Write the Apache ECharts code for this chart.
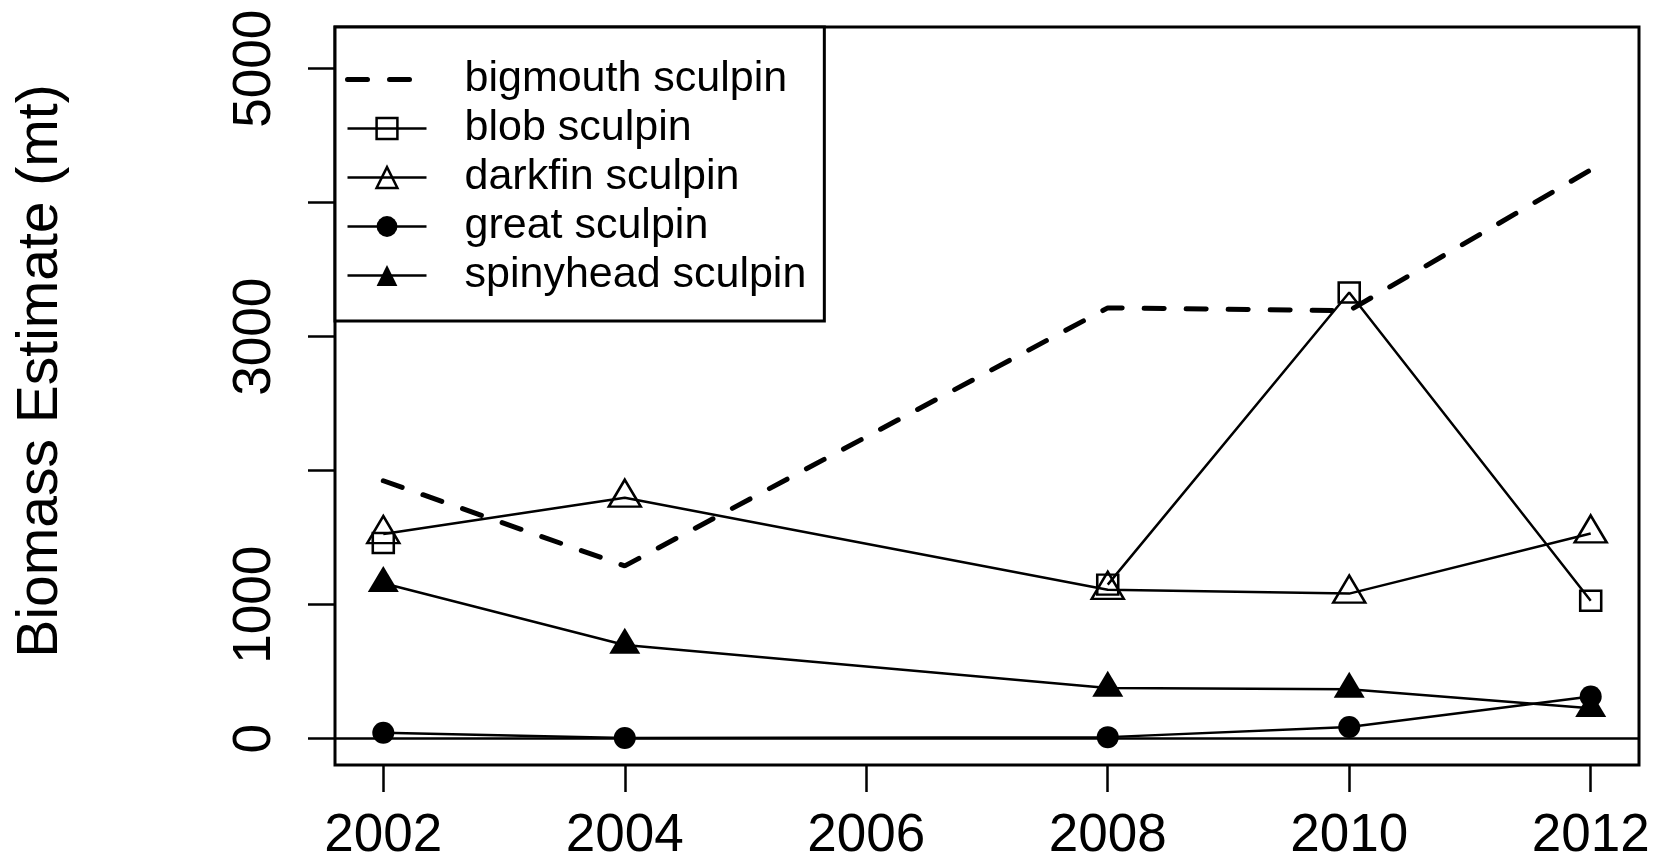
<!DOCTYPE html>
<html>
<head>
<meta charset="utf-8">
<title>Sculpin biomass estimates</title>
<script src="https://cdn.jsdelivr.net/npm/echarts@6/dist/echarts.min.js"></script>
<style>
  html, body { margin: 0; padding: 0; background: #fff; }
  #chart { width: 1656px; height: 863px; }
</style>
</head>
<body>
<div id="chart"></div>
<script>
// survey years (no survey in 2006)
var years = [2002, 2004, 2008, 2010, 2012];

// biomass estimates, mt (null = no estimate that year)
var bigmouth = [1925, 1290, 3215, 3195, 4245];
var blob = [1460, null, 1150, 3330, 1030];
var darkfin = [1527, 1799, 1111, 1083, 1532];
var great = [45, 5, 12, 87, 315];
var spinyhead = [1160, 700, 379, 370, 228];

var seriesNames = ['bigmouth sculpin', 'blob sculpin', 'darkfin sculpin', 'great sculpin', 'spinyhead sculpin'];

var xTicks = [2002, 2004, 2006, 2008, 2010, 2012];
var yTicks = [0, 1000, 2000, 3000, 4000, 5000];
var yLabels = [0, 1000, 3000, 5000];
var yTitle = 'Biomass Estimate (mt)';

var font = '"Liberation Sans", Arial, Helvetica, sans-serif';

function toPairs(vals) {
    return years.map(function (yr, i) {
        return [yr, vals[i] == null ? '-' : vals[i]];
    });
}

var chartDom = document.getElementById('chart');
var myChart = echarts.init(chartDom);

var thin = 2.5;
var hollow = { color: 'rgba(0,0,0,0)', borderColor: '#000', borderWidth: thin };
var filled = { color: '#000', borderColor: '#000', borderWidth: 0 };
var noMark = { color: 'rgba(0,0,0,0)', borderColor: 'rgba(0,0,0,0)', borderWidth: 0 };
var dash = { color: '#000', width: 5, type: [20, 22], cap: 'round' };
var solid = { color: '#000', width: thin, type: 'solid' };

function lineSeries(name, vals, symbol, size, offset, itemStyle, lineStyle) {
    return {
        name: name,
        type: 'line',
        data: toPairs(vals),
        symbol: symbol,
        showSymbol: symbol !== 'none',
        symbolSize: size,
        symbolOffset: offset,
        connectNulls: false,
        lineStyle: lineStyle,
        itemStyle: itemStyle,
        emphasis: { disabled: true },
        animation: false
    };
}

var series = [
    lineSeries(seriesNames[0], bigmouth, 'none', 0, [0, 0], filled, dash),
    lineSeries(seriesNames[1], blob, 'rect', [21, 20], [0, 0], hollow, solid),
    lineSeries(seriesNames[2], darkfin, 'triangle', [32, 27], [0, -4.5], hollow, solid),
    lineSeries(seriesNames[3], great, 'circle', 22, [0, 0], filled, solid),
    lineSeries(seriesNames[4], spinyhead, 'triangle', [31, 26], [0, -4.3], filled, solid)
];

// horizontal reference line at zero
series[0].markLine = {
    silent: true,
    symbol: 'none',
    animation: false,
    label: { show: false },
    lineStyle: { color: '#000', width: 2.5, type: 'solid' },
    data: [{ yAxis: 0 }]
};

var option = {
    backgroundColor: '#fff',
    animation: false,
    grid: {
        left: 335,
        right: 17,
        top: 27,
        bottom: 95,
        show: true,
        borderColor: '#000',
        borderWidth: 3,
        backgroundColor: 'rgba(0,0,0,0)'
    },
    xAxis: {
        type: 'value',
        min: 2001.6,
        max: 2012.4,
        splitLine: { show: false },
        axisLine: { show: false, onZero: false },
        axisTick: {
            show: true,
            customValues: xTicks,
            length: 27,
            lineStyle: { color: '#000', width: 2.5 }
        },
        axisLabel: {
            customValues: xTicks,
            margin: 45,
            fontSize: 53,
            color: '#000',
            fontFamily: font,
            formatter: function (v) { return String(v); }
        }
    },
    yAxis: {
        type: 'value',
        min: -196,
        max: 5311,
        splitLine: { show: false },
        axisLine: { show: false, onZero: false },
        axisTick: {
            show: true,
            customValues: yTicks,
            length: 27,
            lineStyle: { color: '#000', width: 2.5 }
        },
        axisLabel: {
            customValues: yLabels,
            rotate: 90,
            margin: 53,
            fontSize: 53,
            color: '#000',
            fontFamily: font,
            formatter: function (v) { return String(v); }
        }
    },
    legend: {
        orient: 'vertical',
        left: 335,
        top: 27,
        padding: [28, 18, 21, 10],
        itemGap: 0,
        itemWidth: 79,
        itemHeight: 26,
        selectedMode: false,
        borderColor: '#000',
        borderWidth: 3,
        backgroundColor: '#fff',
        textStyle: {
            fontSize: 43,
            lineHeight: 49,
            color: '#000',
            fontFamily: font,
            padding: [0, 0, 0, 33]
        },
        data: [
            { name: seriesNames[0], lineStyle: dash, itemStyle: noMark },
            { name: seriesNames[1], lineStyle: solid, itemStyle: hollow },
            { name: seriesNames[2], lineStyle: solid, itemStyle: hollow },
            { name: seriesNames[3], lineStyle: solid, itemStyle: filled },
            { name: seriesNames[4], lineStyle: solid, itemStyle: filled }
        ]
    },
    graphic: [{
        type: 'text',
        x: 41,
        y: 371,
        rotation: Math.PI / 2,
        style: {
            text: yTitle,
            fontSize: 57,
            fontFamily: font,
            fill: '#000',
            align: 'center',
            verticalAlign: 'middle'
        }
    }],
    series: series
};

option && myChart.setOption(option);
</script>
</body>
</html>
